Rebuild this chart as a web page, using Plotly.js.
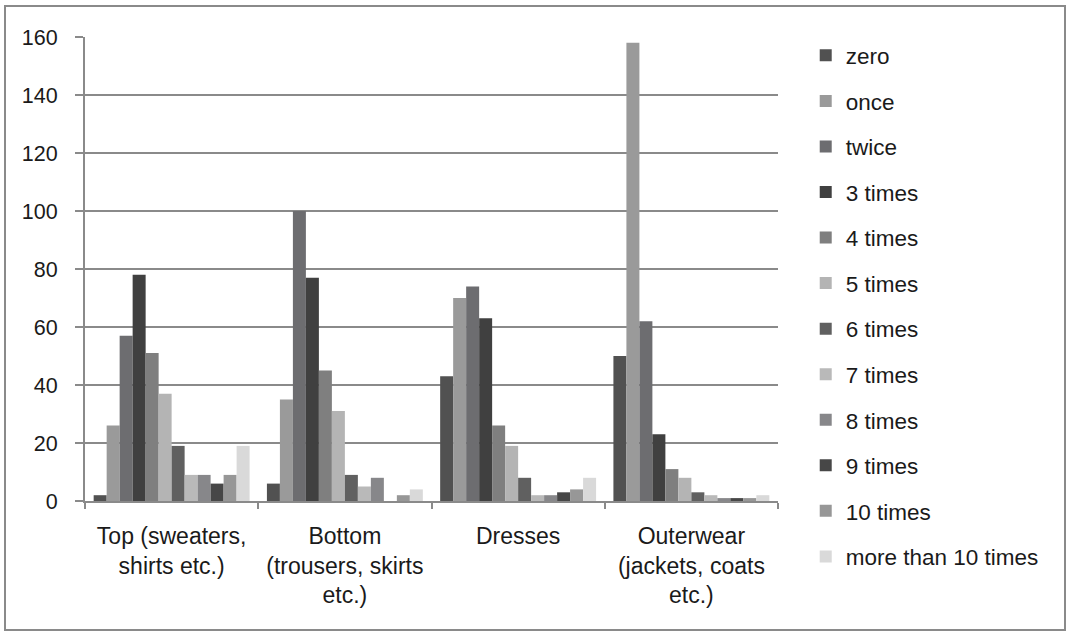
<!DOCTYPE html>
<html>
<head>
<meta charset="utf-8">
<script src="https://cdn.plot.ly/plotly-3.0.1.min.js"></script>
<style>
  html, body { margin: 0; padding: 0; background: #fff; }
  #chart { width: 1070px; height: 635px; }
  #frame { position: absolute; left: 4px; top: 5px; width: 1058px; height: 622px; border: 2px solid #8a8a8a; pointer-events: none; }
</style>
</head>
<body>
<div id="chart"></div>
<div id="frame"></div>
<script>
const categories = [
  "Top (sweaters,<br>shirts etc.)",
  "Bottom<br>(trousers, skirts<br>etc.)",
  "Dresses",
  "Outerwear<br>(jackets, coats<br>etc.)"
];
const seriesNames = ["zero", "once", "twice", "3 times", "4 times", "5 times", "6 times", "7 times", "8 times", "9 times", "10 times", "more than 10 times"];
const zero      = [2, 6, 43, 50];
const once      = [26, 35, 70, 158];
const twice     = [57, 100, 74, 62];
const times3    = [78, 77, 63, 23];
const times4    = [51, 45, 26, 11];
const times5    = [37, 31, 19, 8];
const times6    = [19, 9, 8, 3];
const times7    = [9, 5, 2, 2];
const times8    = [9, 8, 2, 1];
const times9    = [6, 0, 3, 1];
const times10   = [9, 2, 4, 1];
const timesMore = [19, 4, 8, 2];
const seriesValues = [zero, once, twice, times3, times4, times5, times6, times7, times8, times9, times10, timesMore];
const seriesColors = ["#515151", "#9a9a9a", "#6d6d70", "#404040", "#7f7f7f", "#b4b4b4", "#606060", "#b9b9b9", "#87878a", "#474747", "#979797", "#d9d9d9"];
const yTicks = [0, 20, 40, 60, 80, 100, 120, 140, 160];

const traces = seriesNames.map((name, i) => ({
  type: "bar",
  name: name,
  x: categories,
  y: seriesValues[i],
  marker: { color: seriesColors[i], line: { width: 0 } },
  legendgroup: "g" + i
}));

const fam = "'Liberation Sans', Arial, sans-serif";
const font = { family: fam, size: 22, color: "#1a1a1a" };

const layout = {
  width: 1070,
  height: 635,
  margin: { l: 85, r: 292, t: 37, b: 134 },
  paper_bgcolor: "#ffffff",
  plot_bgcolor: "#ffffff",
  font: font,
  barmode: "group",
  bargap: 0.1,
  bargroupgap: 0,
  showlegend: true,
  legend: {
    x: 1.04, xanchor: "left",
    y: 1.006, yanchor: "top",
    font: { family: fam, size: 22.5, color: "#1a1a1a" },
    traceorder: "grouped",
    tracegroupgap: 13.3,
    maxheight: 620,
    bgcolor: "rgba(0,0,0,0)"
  },
  xaxis: {
    type: "category",
    tickson: "boundaries",
    ticks: "outside",
    ticklen: 6,
    tickwidth: 2,
    tickcolor: "#8a8a8a",
    showline: true,
    linecolor: "#8a8a8a",
    linewidth: 2,
    showgrid: false,
    tickfont: { family: fam, size: 23, color: "#1a1a1a" },
    ticklabelstandoff: 13
  },
  yaxis: {
    range: [0, 160],
    tickvals: yTicks,
    ticktext: yTicks.map(String),
    ticks: "outside",
    ticklen: 8,
    tickwidth: 2,
    tickcolor: "#8a8a8a",
    showline: true,
    linecolor: "#8a8a8a",
    linewidth: 2,
    showgrid: true,
    gridcolor: "#8a8a8a",
    gridwidth: 2,
    zeroline: false,
    tickfont: { family: fam, size: 21.5, color: "#1a1a1a" },
    ticklabelstandoff: 13
  }
};

Plotly.newPlot("chart", traces, layout, { displayModeBar: false, staticPlot: true });
</script>
</body>
</html>
